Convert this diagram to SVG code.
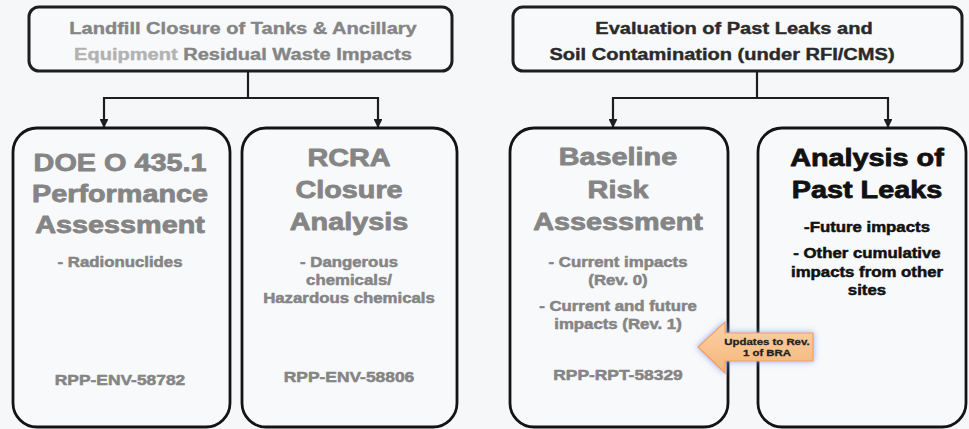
<svg xmlns="http://www.w3.org/2000/svg" width="969" height="429" viewBox="0 0 969 429">
<defs>
<style>
.bg{fill:#f6f7f9}
.top{fill:#f8f9fb;stroke:#1e1e1e;stroke-width:3}
.box{fill:#f8f9fb;stroke:#141414;stroke-width:2.8}
text{font-family:"Liberation Sans",Arial,sans-serif;font-weight:bold;text-anchor:middle;stroke-linejoin:round}
.t17{font-size:17px}
.h{font-size:24px;stroke-width:0.8}
.s{font-size:14px;stroke-width:0.5}
.r{font-size:14.5px;stroke-width:0.5}
.t17{stroke-width:0.4}
.g{fill:#858585;stroke:#858585}
.lg{fill:#b2b2b2;stroke:#b2b2b2}
.d{fill:#2a2a2a;stroke:#2a2a2a}
.k{fill:#111111;stroke:#111111}
.conn{fill:none;stroke:#1e1e1e;stroke-width:2.2}
.at{font-size:9.5px;fill:#222;stroke:#222;stroke-width:0.3}
</style>
<marker id="ah" viewBox="0 0 10 10" refX="9" refY="5" markerWidth="4" markerHeight="4" orient="auto" markerUnits="strokeWidth">
<path d="M0,0 L10,5 L0,10 z" fill="#1e1e1e"/>
</marker>
<linearGradient id="og" x1="0" y1="0" x2="0" y2="1">
<stop offset="0" stop-color="#fbd2a6"/>
<stop offset="1" stop-color="#f5b57a"/>
</linearGradient>
<filter id="glow" x="-20%" y="-40%" width="140%" height="180%">
<feGaussianBlur in="SourceAlpha" stdDeviation="3" result="b"/>
<feFlood flood-color="#6f8ff0" flood-opacity="0.75"/>
<feComposite in2="b" operator="in" result="gl"/>
<feMerge><feMergeNode in="gl"/><feMergeNode in="SourceGraphic"/></feMerge>
</filter>
</defs>
<rect class="bg" x="0" y="0" width="969" height="429"/>

<g id="connectors">
<path class="conn" d="M248,71 V98 M104,98 H378"/>
<path class="conn" d="M104,97 V127" marker-end="url(#ah)"/>
<path class="conn" d="M378,97 V127" marker-end="url(#ah)"/>
<path class="conn" d="M757,71 V98 M613,98 H888"/>
<path class="conn" d="M613,97 V127" marker-end="url(#ah)"/>
<path class="conn" d="M888,97 V127" marker-end="url(#ah)"/>
</g>

<g id="landfill">
<rect class="top" x="29" y="7" width="423" height="64" rx="10"/>
<g transform="translate(243,0) scale(1.18,1)">
<text class="t17 g" x="0" y="34">Landfill Closure of Tanks &amp; Ancillary</text>
<text class="t17 g" x="0" y="60"><tspan class="lg">Equipment</tspan> Residual Waste Impacts</text>
</g>
</g>

<g id="evaluation">
<rect class="top" x="513" y="7" width="449" height="64" rx="10"/>
<g transform="translate(734,0) scale(1.18,1)">
<text class="t17 d" x="0" y="34">Evaluation of Past Leaks and</text>
</g>
<g transform="translate(722,0) scale(1.18,1)">
<text class="t17 d" x="0" y="60">Soil Contamination (under RFI/CMS)</text>
</g>
</g>

<g id="doe">
<rect class="box" x="13" y="128" width="217" height="299" rx="24"/>
<g transform="translate(120,0) scale(1.2,1)">
<text class="h g" x="0" y="171">DOE O 435.1</text>
<text class="h g" x="0" y="202">Performance</text>
<text class="h g" x="0" y="233">Assessment</text>
<text class="s g" x="0" y="267">- Radionuclides</text>
<text class="r g" x="0" y="385">RPP-ENV-58782</text>
</g>
</g>

<g id="rcra">
<rect class="box" x="242" y="128" width="215" height="299" rx="24"/>
<g transform="translate(349,0) scale(1.2,1)">
<text class="h g" x="0" y="166">RCRA</text>
<text class="h g" x="0" y="198">Closure</text>
<text class="h g" x="0" y="230">Analysis</text>
<text class="s g" x="0" y="267">- Dangerous</text>
<text class="s g" x="0" y="285">chemicals/</text>
<text class="s g" x="0" y="303">Hazardous chemicals</text>
<text class="r g" x="0" y="382">RPP-ENV-58806</text>
</g>
</g>

<g id="baseline">
<rect class="box" x="510" y="128" width="218" height="299" rx="24"/>
<g transform="translate(618,0) scale(1.2,1)">
<text class="h g" x="0" y="165">Baseline</text>
<text class="h g" x="0" y="198">Risk</text>
<text class="h g" x="0" y="230">Assessment</text>
<text class="s g" x="0" y="267">- Current impacts</text>
<text class="s g" x="0" y="285">(Rev. 0)</text>
<text class="s g" x="0" y="311">- Current and future</text>
<text class="s g" x="0" y="329">impacts (Rev. 1)</text>
<text class="r g" x="0" y="380">RPP-RPT-58329</text>
</g>
</g>

<g id="pastleaks">
<rect class="box" x="758" y="128" width="208" height="299" rx="24"/>
<g transform="translate(867,0) scale(1.2,1)">
<text class="h k" x="0" y="166">Analysis of</text>
<text class="h k" x="0" y="198">Past Leaks</text>
<text class="s k" x="0" y="232">-Future impacts</text>
<text class="s k" x="0" y="258">- Other cumulative</text>
<text class="s k" x="0" y="277">impacts from other</text>
<text class="s k" x="0" y="295">sites</text>
</g>
</g>

<g id="updates">
<polygon points="698,347 725,322 725,333 813,333 813,361 725,361 725,373" fill="url(#og)" stroke="#f0a060" stroke-width="1.2" filter="url(#glow)"/>
<g transform="translate(767,0) scale(1.2,1)">
<text class="at" x="0" y="345">Updates to Rev.</text>
<text class="at" x="0" y="356">1 of BRA</text>
</g>
</g>
</svg>
